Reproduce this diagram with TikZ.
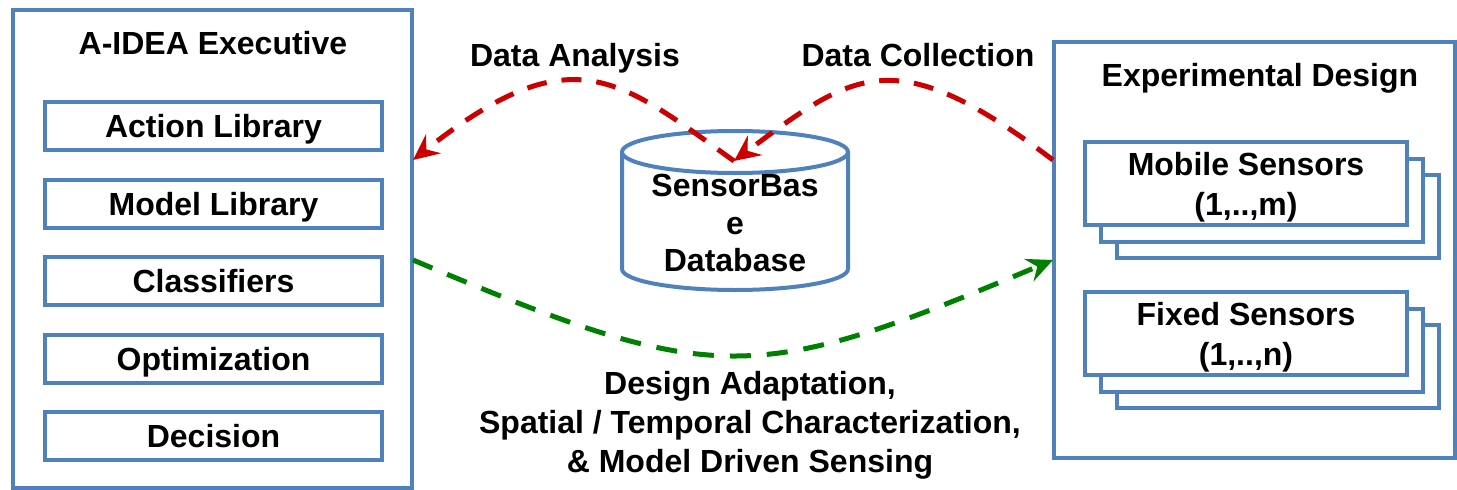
\documentclass[tikz,border=0pt]{standalone}
\usepackage{fontspec}
\setmainfont{Liberation Sans}
\usetikzlibrary{arrows.meta}
\definecolor{boxblue}{RGB}{79,129,189}
\definecolor{arrred}{RGB}{204,0,0}
\definecolor{arrgreen}{RGB}{0,128,0}
\begin{document}
\begin{tikzpicture}[x=1pt,y=-1pt,
  every node/.style={font=\fontsize{32}{39}\selectfont\bfseries, inner sep=0pt},
  one/.style={text height=23pt, text depth=0pt},
  frame/.style={draw=boxblue, line width=4pt, fill=white},
  item/.style={frame, one, minimum width=337pt, minimum height=48pt},
  sens/.style={frame, minimum width=322pt, minimum height=83pt, align=center},
  lbl/.style={align=center},
  redarr/.style={draw=arrred, line width=5pt, dash pattern=on 20pt off 15pt, -{Stealth[length=26pt,width=24pt,inset=9pt]}},
  greenarr/.style={draw=arrgreen, line width=5pt, dash pattern=on 21pt off 16pt, -{Stealth[length=26pt,width=24pt,inset=9pt]}}
]
\useasboundingbox (0,0) rectangle (1457,490);
% left executive box
\node[frame, minimum width=399pt, minimum height=478pt] (exec) at (212.5,249) {};
\node[one] (exectitle) at (213,43) {A-IDEA Executive};
\node[item] (act) at (213.5,126) {Action Library};
\node[item] (mod) at (213.5,204) {Model Library};
\node[item] (cls) at (213.5,281) {Classifiers};
\node[item] (opt) at (213.5,359) {Optimization};
\node[item] (dec) at (213.5,436) {Decision};
% right experimental design box
\node[frame, minimum width=401pt, minimum height=416pt] (exp) at (1254.5,250) {};
\node[one] (exptitle) at (1260,75) {Experimental Design};
\node[sens] (mob3) at (1278,216) {};
\node[sens] (mob2) at (1262,200) {};
\node[sens] (mob) at (1246,183.5) {};
\node[lbl] (mobt) at (1246,187) {Mobile Sensors\\[1pt](1,..,m)};
\node[sens] (fix3) at (1278,366) {};
\node[sens] (fix2) at (1262,350) {};
\node[sens] (fix) at (1246,333.5) {};
\node[lbl] (fixt) at (1246,337) {Fixed Sensors\\[1pt](1,..,n)};
% database cylinder
\draw[draw=boxblue, line width=4pt, fill=white] (622,152) -- (622,269) arc[start angle=180, end angle=360, x radius=113pt, y radius=21pt] -- (848,152);
\draw[draw=boxblue, line width=4pt, fill=white] (735,152) ellipse[x radius=113pt, y radius=21pt];
\node[lbl, font=\fontsize{32}{37.5}\selectfont\bfseries] (db) at (735,223) {SensorBas\\e\\Database};
\coordinate (dbtop) at (734,161);
% anchor points on frames
\coordinate (execR1) at (413,160);
\coordinate (execR2) at (413,260);
\coordinate (expL1) at (1053,160);
\coordinate (expL2) at (1053,260);
% arrows
\draw[redarr] (dbtop) .. controls (618,78) and (572,34) .. (execR1);
\draw[redarr] (expL1) .. controls (895,41) and (856,70) .. (dbtop);
\draw[greenarr] (execR2) .. controls (715,387) and (751,387) .. (expL2);
% labels
\node[one] (la) at (575,55) {Data Analysis};
\node[one] (lc) at (918,55) {Data Collection};
\node[lbl, font=\fontsize{32}{39}\selectfont\bfseries] (ld) at (750,425) {Design Adaptation,\\Spatial / Temporal Characterization,\\\& Model Driven Sensing};
\end{tikzpicture}
\end{document}
